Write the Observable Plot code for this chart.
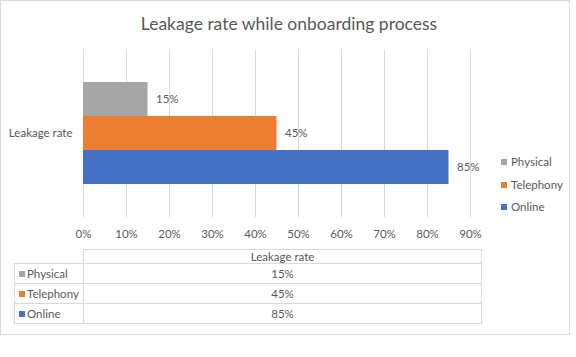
<!DOCTYPE html>
<html>
<head>
<meta charset="utf-8">
<script src="https://cdn.jsdelivr.net/npm/d3@7"></script>
<script src="https://cdn.jsdelivr.net/npm/@observablehq/plot@0.6"></script>
<style>
  body { margin: 0; background: #fff; }
  #wrap { position: relative; width: 576px; height: 357px; font-family: Lato, "Liberation Sans", sans-serif; color: #595959; }
  #frame { position: absolute; left: 0; top: 0; width: 570px; height: 335px; box-sizing: border-box; border: 1px solid #d9d9d9; }
  #title { position: absolute; left: 0; top: 12px; width: 578px; text-align: center; font-size: 17.5px; line-height: 24px; }
  #plot { position: absolute; left: 0; top: 40px; }
  #legend { position: absolute; left: 501px; top: 153px; font-size: 11.5px; }
  #legend .item { height: 22.5px; line-height: 18px; white-space: nowrap; }
  .sw { display: inline-block; width: 6px; height: 6px; margin-right: 4px; vertical-align: middle; position: relative; top: -1px; }
  #tbl { position: absolute; left: 14px; top: 249px; border-collapse: collapse; font-size: 11.5px; }
  #tbl td { border: 1px solid #d9d9d9; padding: 0; height: 19px; line-height: 17px; white-space: nowrap; }
  #tbl tr.h td { height: 13px; line-height: 13px; }
  #tbl td.c0 { width: 69px; min-width: 69px; max-width: 69px; padding-left: 4px; box-sizing: border-box; overflow: hidden; }
  #tbl td.c1 { width: 397px; text-align: center; }
  #tbl td.blank { border-top: none; border-left: none; }
</style>
</head>
<body>
<div id="wrap">
  <div id="frame"></div>
  <div id="title"></div>
  <div id="plot"></div>
  <div id="legend"></div>
  <table id="tbl"></table>
</div>
<script>
const title = "Leakage rate while onboarding process";
const groupLabel = "Leakage rate";
const categories = ["Physical", "Telephony", "Online"];
const values = [0.15, 0.45, 0.85];
const colors = ["#A5A5A5", "#ED7D31", "#4472C4"];
const xTicks = [0, 0.1, 0.2, 0.3, 0.4, 0.5, 0.6, 0.7, 0.8, 0.9];

const fmt = d3.format(".0%");
const data = categories.map((c, i) => ({cat: c, value: values[i]}));

document.getElementById("title").textContent = title;

const chart = Plot.plot({
  width: 500,
  height: 205,
  marginLeft: 83,
  marginRight: 30,
  marginTop: 9,
  marginBottom: 28,
  style: {fontFamily: "Lato, 'Liberation Sans', sans-serif", fontSize: "11.5px", color: "#595959", background: "transparent"},
  x: {domain: [0, 0.9]},
  y: {domain: categories, paddingInner: 0, paddingOuter: 0.923, axis: null},
  color: {domain: categories, range: colors},
  marks: [
    Plot.gridX(xTicks, {stroke: "#d9d9d9", strokeOpacity: 1}),
    Plot.axisX(xTicks, {tickFormat: fmt, tickSize: 0, tickPadding: 12, label: null}),
    Plot.barX(data, {x: "value", y: "cat", fill: "cat"}),
    Plot.text(data, {x: "value", y: "cat", text: d => fmt(d.value), dx: 8, textAnchor: "start", fill: "#595959"}),
    Plot.text([groupLabel], {frameAnchor: "left", textAnchor: "end", dx: -11, fill: "#595959"})
  ]
});
document.getElementById("plot").appendChild(chart);

const legend = document.getElementById("legend");
categories.forEach((c, i) => {
  const it = document.createElement("div");
  it.className = "item";
  it.innerHTML = `<span class="sw" style="background:${colors[i]}"></span>${c}`;
  legend.appendChild(it);
});

const tbl = document.getElementById("tbl");
let html = `<tr class="h"><td class="c0 blank"></td><td class="c1">${groupLabel}</td></tr>`;
categories.forEach((c, i) => {
  html += `<tr><td class="c0"><span class="sw" style="background:${colors[i]};margin-right:2px"></span>${c}</td><td class="c1">${fmt(values[i])}</td></tr>`;
});
tbl.innerHTML = html;
</script>
</body>
</html>
